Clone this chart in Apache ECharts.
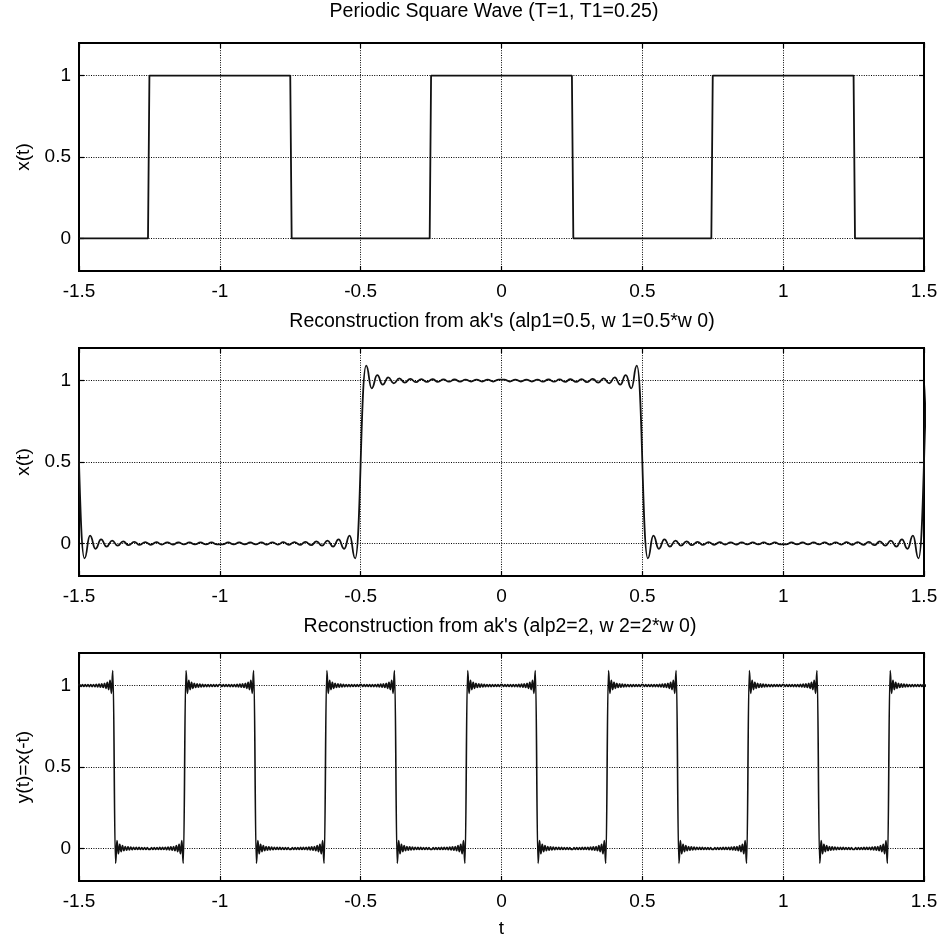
<!DOCTYPE html>
<html><head><meta charset="utf-8">
<script src="https://cdn.jsdelivr.net/npm/echarts@6/dist/echarts.min.js"></script>
<style>html,body{margin:0;padding:0;background:#fff}#c{width:944px;height:942px}</style>
</head><body><div id="c"></div>
<script>
// ---------- data ----------
const xTickValues = [-1.5, -1, -0.5, 0, 0.5, 1, 1.5];
const yTickValues = [0, 0.5, 1];

const titles = [
  'Periodic Square Wave (T=1, T1=0.25)',
  "Reconstruction from ak's (alp1=0.5, w 1=0.5*w 0)",
  "Reconstruction from ak's (alp2=2, w 2=2*w 0)"
];
const yNames = ['x(t)', 'x(t)', 'y(t)=x(-t)'];
const xName = 't';

// plot 1: square wave vertices
const squareT = [-1.5, -1.255, -1.25, -0.75, -0.745, -0.255, -0.25, 0.25, 0.255, 0.745, 0.75, 1.25, 1.255, 1.5];
const squareV = [0, 0, 1, 1, 0, 0, 1, 1, 0, 0, 1, 1, 0, 0];

// plot 2: edge times and level between consecutive edges
const edges2 = [-2.5, -1.5, -0.5, 0.5, 1.5, 2.5];
const levels2 = [1, 0, 1, 0, 1];
const rippleStep2 = 0.0196;   // spacing of ripple extrema

// plot 3
const edges3 = [-1.625, -1.375, -1.125, -0.875, -0.625, -0.375, -0.125, 0.125, 0.375, 0.625, 0.875, 1.125, 1.375, 1.625];
const levels3 = [1, 0, 1, 0, 1, 0, 1, 0, 1, 0, 1, 0, 1];
const rippleStep3 = 0.0049;

// magnitude of successive ripple extrema next to an edge
const rippleAmp = [0.092, 0.048, 0.033, 0.025, 0.020, 0.017, 0.014, 0.012, 0.011, 0.010,
                   0.009, 0.0085, 0.008, 0.0075, 0.007, 0.007, 0.0065, 0.0065, 0.006, 0.006,
                   0.006, 0.006, 0.006, 0.006, 0.006, 0.006];

// ---------- build series data ----------
function buildRipple(edges, levels, step) {
  const pts = [];
  for (let i = 0; i < levels.length; i++) {
    const a = edges[i], b = edges[i + 1], L = levels[i];
    const K = Math.min(rippleAmp.length, Math.floor((b - a) / (2 * step)));
    const s = L ? 1 : -1;
    for (let k = 1; k <= K; k++) pts.push([a + k * step, L + s * (k % 2 ? 1 : -1) * rippleAmp[k - 1]]);
    for (let k = K; k >= 1; k--) pts.push([b - k * step, L + s * (k % 2 ? 1 : -1) * rippleAmp[k - 1]]);
  }
  return pts;
}
const data1 = squareT.map((t, i) => [t, squareV[i]]);
const data2 = buildRipple(edges2, levels2, rippleStep2);
const data3 = buildRipple(edges3, levels3, rippleStep3);

// ---------- layout ----------
const FONT = '"Liberation Sans", Arial, sans-serif';
const gridTops = [43, 348, 653];
const gridH = 228;
const gridL = 79, gridW = 845;

const grids = [], xAxes = [], yAxes = [], series = [], graphics = [];
const datas = [data1, data2, data3];
const titleX = [494, 502, 500];
const dotted = { color: '#000', width: 1, type: [1, 1.4] };

gridTops.forEach((top, i) => {
  grids.push({ left: gridL, top: top, width: gridW, height: gridH, show: true,
    borderColor: '#000', borderWidth: 2, backgroundColor: '#fff', containLabel: false, outerBoundsMode: 'none' });
  const tickStyle = { show: true, inside: true, length: 5, lineStyle: { color: '#000', width: 1.2 } };
  xAxes.push({ type: 'value', gridIndex: i, min: -1.5, max: 1.5, interval: 0.5, position: 'bottom',
    axisLine: { show: false, onZero: false },
    axisTick: tickStyle,
    axisLabel: { show: true, color: '#000', fontSize: 19, fontFamily: FONT, margin: 11,
      showMinLabel: true, showMaxLabel: true, hideOverlap: false },
    splitLine: { show: true, lineStyle: dotted } });
  xAxes.push({ type: 'value', gridIndex: i, min: -1.5, max: 1.5, interval: 0.5, position: 'top',
    axisLine: { show: false, onZero: false }, axisTick: tickStyle,
    axisLabel: { show: false }, splitLine: { show: false } });
  yAxes.push({ type: 'value', gridIndex: i, min: -0.2, max: 1.2, position: 'left',
    axisLine: { show: false, onZero: false },
    axisTick: Object.assign({}, tickStyle, { customValues: yTickValues }),
    axisLabel: { show: true, color: '#000', fontSize: 19, fontFamily: FONT, margin: 8,
      customValues: yTickValues, hideOverlap: false },
    splitLine: { show: true, lineStyle: dotted } });
  yAxes.push({ type: 'value', gridIndex: i, min: -0.2, max: 1.2, position: 'right',
    axisLine: { show: false, onZero: false },
    axisTick: Object.assign({}, tickStyle, { customValues: yTickValues }),
    axisLabel: { show: false }, splitLine: { show: false } });
  series.push({ type: 'line', xAxisIndex: 2 * i, yAxisIndex: 2 * i, data: datas[i],
    showSymbol: false, symbol: 'none', clip: true, animation: false,
    smooth: i === 0 ? false : 0.5, smoothMonotone: i === 0 ? undefined : 'x',
    lineStyle: { color: '#111', width: i === 2 ? 1.6 : 1.8 } });
  graphics.push({ type: 'text', x: titleX[i], y: top - (i === 0 ? 31 : 26),
    style: { text: titles[i], fill: '#000', font: '19.5px ' + FONT, align: 'center', verticalAlign: 'middle' } });
  graphics.push({ type: 'text', x: 24, y: top + gridH / 2, rotation: Math.PI / 2,
    style: { text: yNames[i], fill: '#000', font: '19px ' + FONT, align: 'center', verticalAlign: 'middle' } });
});
graphics.push({ type: 'text', x: gridL + gridW / 2, y: 929,
  style: { text: xName, fill: '#000', font: '19px ' + FONT, align: 'center', verticalAlign: 'middle' } });

const chart = echarts.init(document.getElementById('c'), null, { renderer: 'canvas' });
chart.setOption({
  backgroundColor: '#fff',
  animation: false,
  grid: grids, xAxis: xAxes, yAxis: yAxes, series: series, graphic: graphics
});
</script></body></html>
